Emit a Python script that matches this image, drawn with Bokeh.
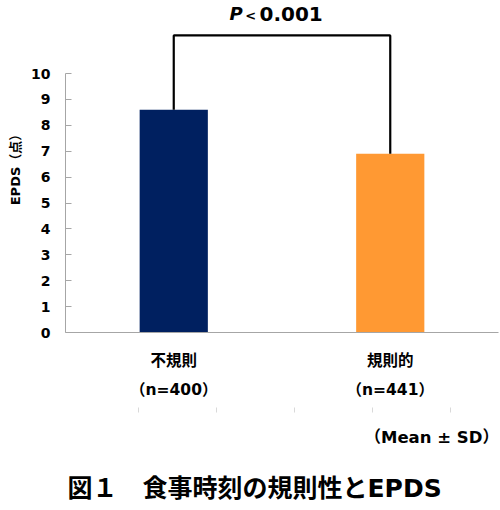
from bokeh.plotting import figure
from bokeh.layouts import column
from bokeh.models import FixedTicker, LinearAxis, Label, Range1d
from bokeh.embed import file_html
from bokeh.resources import INLINE

# ---- data ----
categories = ["不規則", "規則的"]
n_values = [400, 441]
means = [8.6, 6.9]
bar_colors = ["#002060", "#FF9933"]
y_ticks = [0, 1, 2, 3, 4, 5, 6, 7, 8, 9, 10]
p_label = "0.001"
note_text = "（Mean ± SD）"
caption_text = "図１　食事時刻の規則性とEPDS"
y_title = "EPDS（点）"

x_pos = [0.5, 1.5]
deco_ticks = [0.338, 0.697, 1.058, 1.418, 1.778]
bracket_y = 11.47

CJK = "Noto Sans CJK JP"
LAT = "DejaVu Sans"
MIX = "'DejaVu Sans', 'Noto Sans CJK JP'"

p = figure(width=500, height=420, x_range=Range1d(0, 2.0), y_range=Range1d(0, 12.82),
           output_backend="svg", toolbar_location=None,
           min_border_left=65, min_border_right=2, min_border_top=0, min_border_bottom=88)
p.grid.visible = False
p.outline_line_color = None
p.background_fill_color = "white"

p.vbar(x=x_pos, top=means, width=0.315, fill_color=bar_colors, line_color=None)

p.line(x=[x_pos[0], x_pos[0], x_pos[1], x_pos[1]],
       y=[means[0], bracket_y, bracket_y, means[1]],
       line_color="black", line_width=2.2)

# y axis
ya = p.yaxis[0]
ya.ticker = FixedTicker(ticks=y_ticks)
ya.bounds = (0, 10)
ya.axis_line_color = "#a6a6a6"
ya.major_tick_line_color = "#a6a6a6"
ya.major_tick_in = 6
ya.major_tick_out = 0
ya.minor_tick_line_color = None
ya.major_label_standoff = 15
ya.major_label_text_font = LAT
ya.major_label_text_font_style = "bold"
ya.major_label_text_font_size = "14px"
ya.major_label_text_color = "black"
ya.axis_label = y_title
ya.axis_label_text_font = MIX
ya.axis_label_text_font_style = "bold"
ya.axis_label_text_font_size = "13px"
ya.axis_label_text_color = "black"
ya.axis_label_standoff = 5

# x axis
xa = p.xaxis[0]
xa.ticker = FixedTicker(ticks=x_pos)
xa.major_label_overrides = {x_pos[i]: f"{categories[i]}\n（n={n_values[i]}）" for i in range(2)}
xa.axis_line_color = "#a6a6a6"
xa.major_tick_line_color = None
xa.minor_tick_line_color = None
xa.major_label_standoff = 13
xa.major_label_text_font = MIX
xa.major_label_text_font_style = "bold"
xa.major_label_text_font_size = "15.5px"
xa.major_label_text_color = "black"
xa.major_label_text_line_height = 1.66

# faint decorative ticks
xa2 = LinearAxis(ticker=FixedTicker(ticks=deco_ticks))
xa2.axis_line_color = None
xa2.major_tick_line_color = "#d9d9d9"
xa2.major_tick_in = -5
xa2.major_tick_out = 10
xa2.minor_tick_line_color = None
xa2.major_label_text_alpha = 0
xa2.major_label_text_font_size = "1px"
xa2.major_label_standoff = 0
p.add_layout(xa2, "below")

# P value
p.add_layout(Label(x=0.818, y=12.3, text="P", text_align="right", text_baseline="middle",
                   text_font=LAT, text_font_style="bold italic", text_font_size="18px",
                   text_color="black"))
p.add_layout(Label(x=0.855, y=12.26, text="<", text_align="center", text_baseline="middle",
                   text_font=LAT, text_font_style="bold", text_font_size="13px",
                   text_color="black"))
p.add_layout(Label(x=0.896, y=12.3, text=p_label, text_align="left", text_baseline="middle",
                   text_font=LAT, text_font_style="bold", text_font_size="20px",
                   text_color="black"))

# ---- note and caption panel (frame aligned with the chart frame: 65..498 px) ----
q = figure(width=500, height=90, x_range=Range1d(65, 498), y_range=Range1d(0, 90),
           output_backend="svg", toolbar_location=None,
           min_border_left=65, min_border_right=2, min_border_top=0, min_border_bottom=0)
q.axis.visible = False
q.grid.visible = False
q.outline_line_color = None
q.add_layout(Label(x=364, y=73, text=note_text, text_align="left", text_baseline="middle",
                   text_font=MIX, text_font_style="bold", text_font_size="16.5px",
                   text_color="black"))
q.add_layout(Label(x=67, y=22, text=caption_text, text_align="left", text_baseline="middle",
                   text_font=MIX, text_font_style="bold", text_font_size="25px",
                   text_color="black"))

layout = column(p, q, spacing=0)
open("out.html", "w").write(file_html(layout, INLINE))
